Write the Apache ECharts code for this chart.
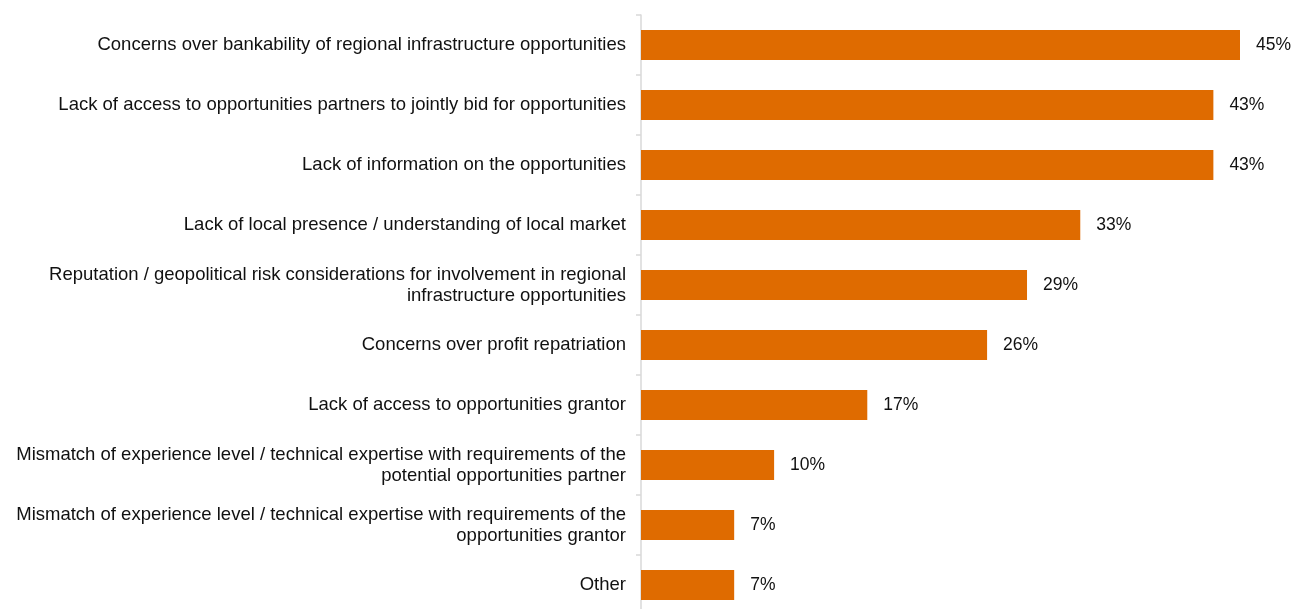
<!DOCTYPE html>
<html>
<head>
<meta charset="utf-8">
<script src="https://cdn.jsdelivr.net/npm/echarts@6/dist/echarts.min.js"></script>
<style>
  html, body { margin: 0; padding: 0; background: #fff; }
  #chart { width: 1297px; height: 609px; }
</style>
</head>
<body>
<div id="chart"></div>
<script>
// Barriers to participation, share of respondents (%)
const categories = [
  'Concerns over bankability of regional infrastructure opportunities',
  'Lack of access to opportunities partners to jointly bid for opportunities',
  'Lack of information on the opportunities',
  'Lack of local presence / understanding of local market',
  'Reputation / geopolitical risk considerations for involvement in regional\ninfrastructure opportunities',
  'Concerns over profit repatriation',
  'Lack of access to opportunities grantor',
  'Mismatch of experience level / technical expertise with requirements of the\npotential opportunities partner',
  'Mismatch of experience level / technical expertise with requirements of the\nopportunities grantor',
  'Other'
];
const values = [45, 43, 43, 33, 29, 26, 17, 10, 7, 7];

const FONT = "'Liberation Sans', Arial, sans-serif";

const chart = echarts.init(document.getElementById('chart'));
chart.setOption({
  animation: false,
  // the plot runs a little past the bottom edge, so the last row sits low
  grid: {
    left: 641, top: 15, width: 599, height: 600,
    outerBoundsMode: 'none', containLabel: false
  },
  xAxis: {
    type: 'value', min: 0, max: 45, show: false
  },
  yAxis: {
    type: 'category',
    inverse: true,
    data: categories,
    axisLine: { show: true, lineStyle: { color: '#d9d9d9', width: 1.5 } },
    axisTick: { show: true, length: 5, lineStyle: { color: '#d9d9d9', width: 1.5 } },
    axisLabel: {
      margin: 15,
      fontFamily: FONT,
      fontSize: 18.5,
      lineHeight: 21,
      color: '#111',
      align: 'right'
    }
  },
  series: [{
    type: 'bar',
    data: values,
    barWidth: 30,
    itemStyle: { color: '#DF6B00' },
    label: {
      show: true,
      position: 'right',
      distance: 16,
      formatter: '{c}%',
      fontFamily: FONT,
      fontSize: 17.5,
      color: '#111'
    }
  }]
});
</script>
</body>
</html>
